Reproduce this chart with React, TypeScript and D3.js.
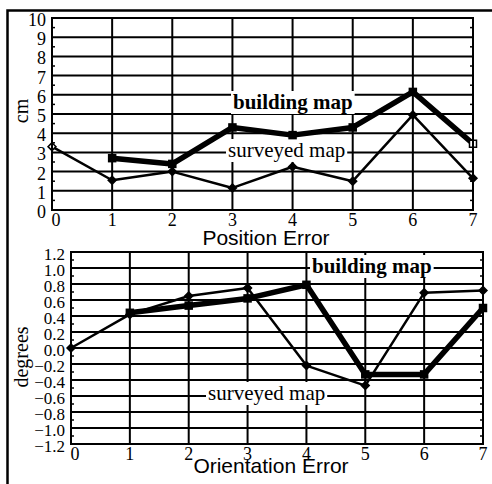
import React, { useEffect, useRef } from 'react';
import * as d3 from 'd3';

const xCats = [0, 1, 2, 3, 4, 5, 6, 7];

// Position Error (cm)
const posSurveyed = [3.3, 1.55, 2.0, 1.15, 2.25, 1.5, 4.95, 1.65];
const posBuilding = [null, 2.7, 2.4, 4.3, 3.9, 4.3, 6.15, 3.45];
const posTicks = [0, 1, 2, 3, 4, 5, 6, 7, 8, 9, 10];

// Orientation Error (degrees)
const oriSurveyed = [0.0, 0.42, 0.65, 0.75, -0.22, -0.47, 0.69, 0.72];
const oriBuilding = [null, 0.44, 0.53, 0.62, 0.79, -0.33, -0.33, 0.5];
const oriTicks = [-1.2, -1.0, -0.8, -0.6, -0.4, -0.2, 0.0, 0.2, 0.4, 0.6, 0.8, 1.0, 1.2];

const serif = '"Liberation Serif", "Times New Roman", serif';
const sans = '"Liberation Sans", Arial, sans-serif';

function drawPanel(svg, cfg) {
  const x = d3.scaleLinear().domain([0, 7]).range([cfg.left, cfg.right]);
  const y = d3.scaleLinear().domain(cfg.domain).range([cfg.bottom, cfg.top]);
  const g = svg.append('g');

  // grid lines
  g.selectAll('.hgrid').data(cfg.ticks).enter().append('line')
    .attr('x1', cfg.left).attr('x2', cfg.right)
    .attr('y1', (d) => y(d)).attr('y2', (d) => y(d))
    .attr('stroke', '#000').attr('stroke-width', 2);
  g.selectAll('.vgrid').data(xCats).enter().append('line')
    .attr('x1', (d) => x(d)).attr('x2', (d) => x(d))
    .attr('y1', cfg.top).attr('y2', cfg.bottom)
    .attr('stroke', '#000').attr('stroke-width', 2);

  // minor ticks at half steps on left / right edges
  const step = cfg.ticks[1] - cfg.ticks[0];
  const minors = cfg.ticks.slice(0, -1).map((t) => t + step / 2);
  g.selectAll('.mtl').data(minors).enter().append('line')
    .attr('x1', cfg.left).attr('x2', cfg.left + 3)
    .attr('y1', (d) => y(d)).attr('y2', (d) => y(d))
    .attr('stroke', '#000').attr('stroke-width', 1.5);
  g.selectAll('.mtr').data(minors).enter().append('line')
    .attr('x1', cfg.right - 3).attr('x2', cfg.right)
    .attr('y1', (d) => y(d)).attr('y2', (d) => y(d))
    .attr('stroke', '#000').attr('stroke-width', 1.5);

  // tick labels
  g.selectAll('.ylab').data(cfg.ticks).enter().append('text')
    .attr('x', cfg.left - 6).attr('y', (d) => y(d) + 8)
    .attr('text-anchor', 'end')
    .style('font-family', serif).style('font-size', cfg.yTickSize)
    .text(cfg.fmt);
  g.selectAll('.xlab').data(xCats).enter().append('text')
    .attr('x', (d) => x(d) + (d === 0 ? 4 : 0)).attr('y', cfg.bottom + 16)
    .attr('text-anchor', 'middle')
    .style('font-family', serif).style('font-size', '18px')
    .text((d) => d);

  // axis titles
  g.append('text')
    .attr('transform', `translate(28,${cfg.yTitleY}) rotate(-90)`)
    .attr('text-anchor', 'middle')
    .style('font-family', serif).style('font-size', '20px')
    .text(cfg.yTitle);
  g.append('text')
    .attr('x', cfg.xTitleX).attr('y', cfg.xTitleBase)
    .attr('text-anchor', 'middle')
    .style('font-family', sans).style('font-size', '21px')
    .text(cfg.xTitle);

  // series labels with white boxes
  cfg.labels.forEach((l) => {
    const t = g.append('text')
      .attr('x', l.x).attr('y', l.y)
      .style('font-family', serif).style('font-size', '21px')
      .style('font-weight', l.bold ? 'bold' : 'normal')
      .text(l.text);
    const bb = t.node().getBBox();
    g.insert('rect', () => t.node())
      .attr('x', bb.x - 2).attr('y', bb.y + 1)
      .attr('width', bb.width + 4).attr('height', bb.height - 1)
      .attr('fill', '#fff');
  });

  const line = d3.line()
    .defined((d) => d[1] !== null)
    .x((d) => x(d[0])).y((d) => y(d[1]));

  const surv = xCats.map((c, i) => [c, cfg.surveyed[i]]);
  const bld = xCats.map((c, i) => [c, cfg.building[i]]);

  g.append('path').attr('d', line(surv))
    .attr('fill', 'none').attr('stroke', '#000').attr('stroke-width', 2.5)
    .attr('stroke-linejoin', 'round');
  g.append('path').attr('d', line(bld))
    .attr('fill', 'none').attr('stroke', '#000').attr('stroke-width', 5.5)
    .attr('stroke-linejoin', 'round');

  g.selectAll('.sm').data(surv).enter().append('path')
    .attr('transform', (d) => `translate(${x(d[0])},${y(d[1])})`)
    .attr('d', d3.symbol(d3.symbolDiamond2, 40))
    .attr('fill', (d, i) => (i === cfg.openSurv ? '#fff' : '#000'))
    .attr('stroke', '#000').attr('stroke-width', 1.5);
  g.selectAll('.bm').data(bld.filter((d) => d[1] !== null)).enter().append('rect')
    .attr('x', (d) => x(d[0]) - 3.5).attr('y', (d) => y(d[1]) - 3.5)
    .attr('width', 7).attr('height', 7)
    .attr('fill', (d) => (d[0] === cfg.openBld ? '#fff' : '#000'))
    .attr('stroke', '#000').attr('stroke-width', 1.5);

  // plot frame
  g.append('rect')
    .attr('x', cfg.left).attr('y', cfg.top)
    .attr('width', cfg.right - cfg.left).attr('height', cfg.bottom - cfg.top)
    .attr('fill', 'none').attr('stroke', '#000').attr('stroke-width', 2);
}

function App() {
  const ref = useRef();

  useEffect(() => {
    const svg = d3.select(ref.current);
    svg.selectAll('*').remove();

    svg.append('rect').attr('width', 492).attr('height', 484).attr('fill', '#fff');

    // outer frame (left and top only)
    svg.append('path')
      .attr('d', 'M7.5,484 L7.5,10.5 L492,10.5')
      .attr('fill', 'none').attr('stroke', '#000').attr('stroke-width', 2.5);

    drawPanel(svg, {
      left: 52, right: 473, top: 18, bottom: 210,
      domain: [0, 10], ticks: posTicks, fmt: (d) => d, yTickSize: '18px',
      surveyed: posSurveyed, building: posBuilding,
      yTitle: 'cm', yTitleY: 111,
      xTitle: 'Position Error', xTitleX: 266, xTitleBase: 245,
      openSurv: 0, openBld: 7,
      labels: [
        { text: 'building map', x: 233, y: 109, bold: true },
        { text: 'surveyed map', x: 228, y: 157, bold: false },
      ],
    });

    drawPanel(svg, {
      left: 71, right: 483, top: 252, bottom: 444,
      domain: [-1.2, 1.2], ticks: oriTicks, fmt: (d) => d3.format('.1f')(d), yTickSize: '17px',
      surveyed: oriSurveyed, building: oriBuilding,
      yTitle: 'degrees', yTitleY: 357,
      xTitle: 'Orientation Error', xTitleX: 271, xTitleBase: 473,
      openSurv: -1, openBld: -1,
      labels: [
        { text: 'building map', x: 312, y: 273, bold: true },
        { text: 'surveyed map', x: 208, y: 400, bold: false },
      ],
    });

    return () => {
      d3.select(ref.current).selectAll('*').remove();
    };
  }, []);

  return (
    <svg ref={ref} width={492} height={484}
      style={{ position: 'absolute', left: 0, top: 0 }}></svg>
  );
}

export default App;
